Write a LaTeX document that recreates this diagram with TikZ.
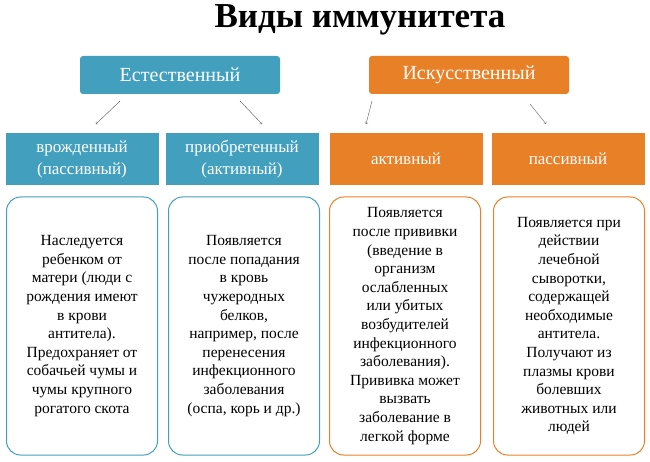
\documentclass[tikz,border=0pt]{standalone}
\usepackage{fontspec}
\setmainfont{Liberation Serif}
\usetikzlibrary{positioning}
\definecolor{bluebox}{RGB}{66,160,190}
\definecolor{orangebox}{RGB}{232,128,40}
\tikzset{
  headbox/.style={rounded corners=3pt, minimum width=200pt, minimum height=38pt, text=white, font=\fontsize{20}{22}\selectfont},
  subbox/.style={minimum width=153pt, minimum height=52pt, text=white, align=center, font=\fontsize{17}{22}\selectfont},
  textbox/.style={draw, rounded corners=14pt, line width=1pt, minimum width=151pt, minimum height=258pt, align=center, font=\fontsize{15.5}{18.6}\selectfont},
  link/.style={->, thin, gray!70!black}
}
\begin{document}
\begin{tikzpicture}[x=1pt,y=-1pt]
  \useasboundingbox (0,0) rectangle (650,462);
  \node (title) at (360,20) {\fontsize{35}{36}\selectfont\bfseries Виды иммунитета};
  % top row
  \node[headbox, fill=bluebox] (nat) at (180,75) {Естественный};
  \node[headbox, fill=orangebox] (art) at (469,75) {Искусственный};
  % second row
  \node[subbox, fill=bluebox] (inn) at (82,159) {врожденный\\(пассивный)};
  \node[subbox, fill=bluebox] (acq) at (242,159) {приобретенный\\(активный)};
  \node[subbox, fill=orangebox] (act) at (406,159) {активный};
  \node[subbox, fill=orangebox] (pas) at (568,159) {пассивный};
  \draw[link] (120,101) -- (96,124);
  \draw[link] (240,101) -- (262,124);
  \draw[link] (372,101) -- (366,124);
  \draw[link] (530,104) -- (546,124);
  % text row
  \node[textbox, draw=bluebox] (t1) at (82,326) {Наследуется\\ребенком от\\матери (люди с\\рождения имеют\\в крови\\антитела).\\Предохраняет от\\собачьей чумы и\\чумы крупного\\рогатого скота};
  \node[textbox, draw=bluebox] (t2) at (244,326) {Появляется\\после попадания\\в кровь\\чужеродных\\белков,\\например, после\\перенесения\\инфекционного\\заболевания\\(оспа, корь и др.)};
  \node[textbox, draw=orangebox] (t3) at (405,326) {Появляется\\после прививки\\(введение в\\организм\\ослабленных\\или убитых\\возбудителей\\инфекционного\\заболевания).\\Прививка может\\вызвать\\заболевание в\\легкой форме};
  \node[textbox, draw=orangebox] (t4) at (569,326) {Появляется при\\действии\\лечебной\\сыворотки,\\содержащей\\необходимые\\антитела.\\Получают из\\плазмы крови\\болевших\\животных или\\людей};
\end{tikzpicture}
\end{document}
